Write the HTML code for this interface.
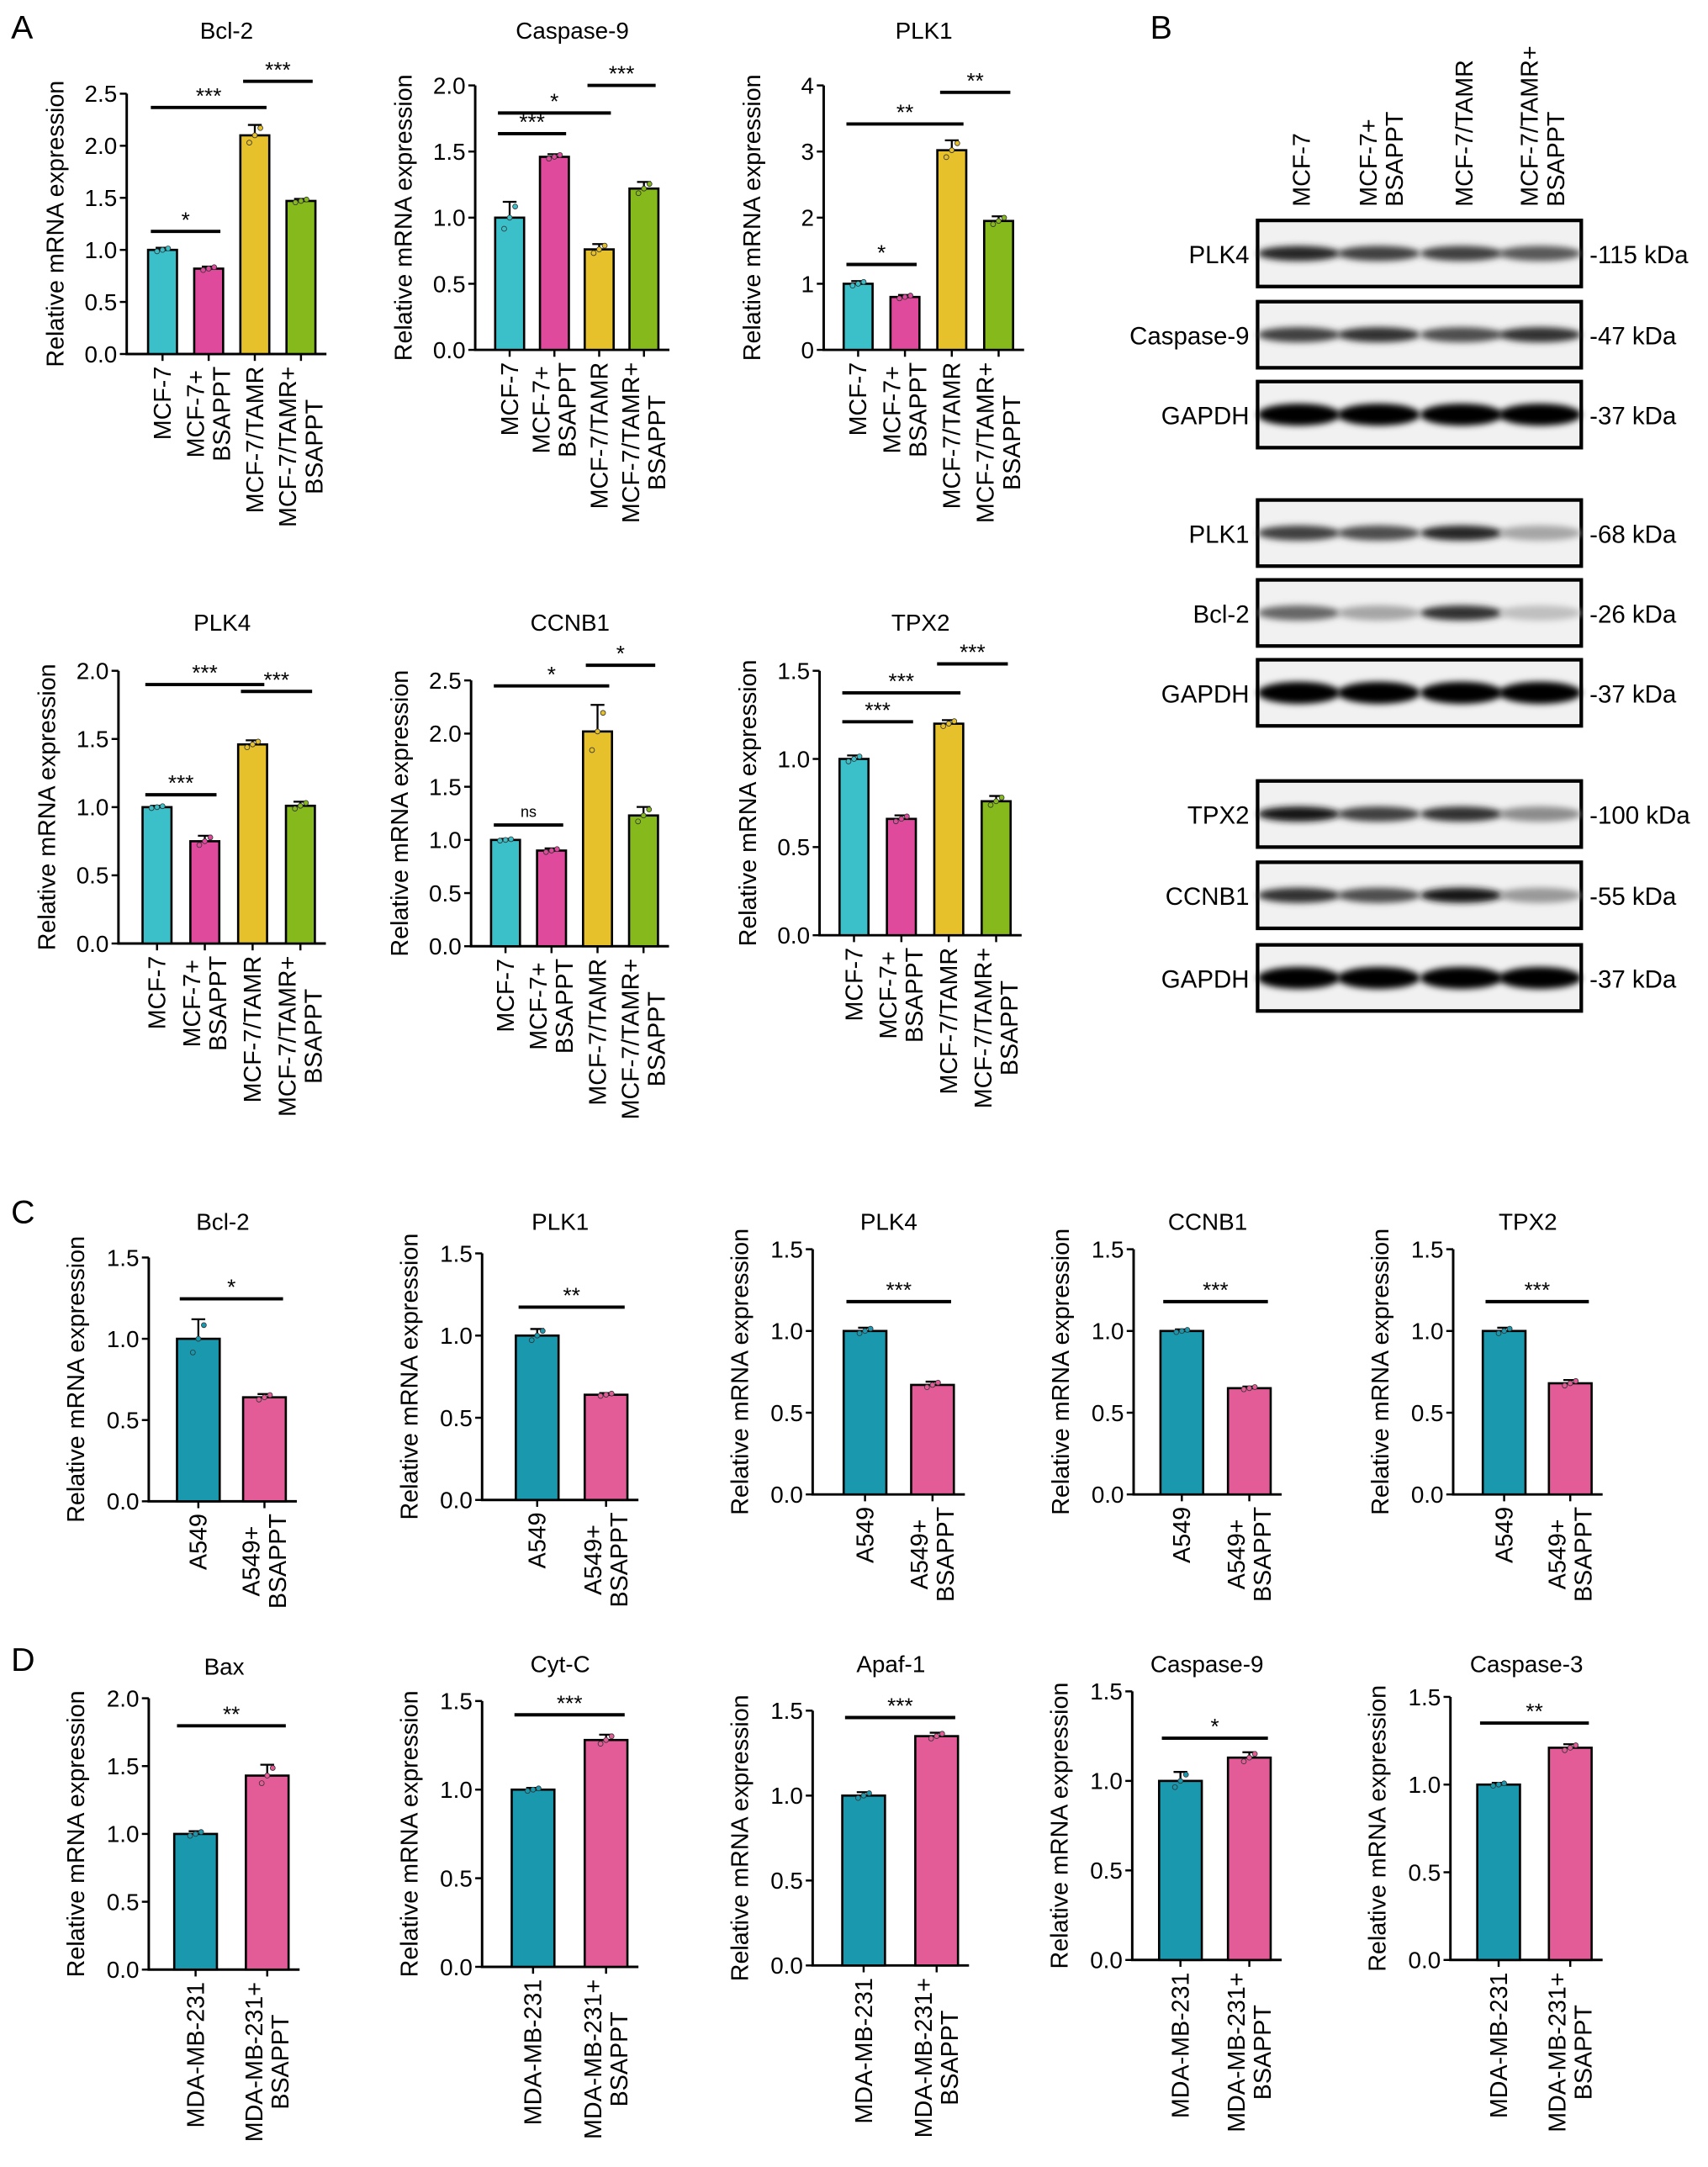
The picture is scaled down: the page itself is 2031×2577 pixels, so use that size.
<!DOCTYPE html>
<html><head><meta charset="utf-8"><style>
html,body{margin:0;padding:0;background:#fff;}
svg{display:block;font-family:"Liberation Sans",Arial,sans-serif;}
</style></head><body>
<svg id="fig" xmlns="http://www.w3.org/2000/svg" width="2031" height="2577" viewBox="0 0 1240 1573.3">
<defs><filter id="blur" x="-20%" y="-100%" width="140%" height="300%"><feGaussianBlur stdDeviation="2.2"/></filter></defs>
<text x="8" y="28" font-size="24">A</text>
<text x="835" y="28" font-size="24">B</text>
<text x="8" y="888" font-size="24">C</text>
<text x="8" y="1213" font-size="24">D</text>
</svg>
<script>
// ---- data arrays ----
const groupsA=[["MCF-7"],["MCF-7+","BSAPPT"],["MCF-7/TAMR"],["MCF-7/TAMR+","BSAPPT"]];
const groupsC=[["A549"],["A549+","BSAPPT"]];
const groupsD=[["MDA-MB-231"],["MDA-MB-231+","BSAPPT"]];
const bcl2A=[1.0,0.82,2.1,1.47];
const casp9A=[1.0,1.46,0.76,1.22];
const plk1A=[1.0,0.8,3.02,1.95];
const plk4A=[1.0,0.75,1.46,1.01];
const ccnb1A=[1.0,0.9,2.02,1.23];
const tpx2A=[1.0,0.66,1.2,0.76];
const bcl2C=[1.0,0.64];
const plk1C=[1.0,0.64];
const plk4C=[1.0,0.67];
const ccnb1C=[1.0,0.65];
const tpx2C=[1.0,0.68];
const baxD=[1.0,1.43];
const cytcD=[1.0,1.28];
const apafD=[1.0,1.35];
const casp9D=[1.0,1.13];
const casp3D=[1.0,1.21];
const errA=[[0.02,0.02,0.1,0.02],[0.12,0.02,0.04,0.05],[0.04,0.03,0.15,0.07],[0.01,0.04,0.03,0.03],[0.01,0.02,0.25,0.08],[0.02,0.02,0.02,0.03]];
const errC=[[0.12,0.02],[0.04,0.01],[0.02,0.02],[0.01,0.01],[0.02,0.02]];
const errD=[[0.02,0.08],[0.01,0.03],[0.02,0.02],[0.05,0.03],[0.01,0.02]];
const ticks25=[0,0.5,1,1.5,2,2.5];
const ticks20=[0,0.5,1,1.5,2];
const ticks4=[0,1,2,3,4];
const ticks15=[0,0.5,1,1.5];
const sigBcl2A=[["*",0,1],["***",0,2],["***",2,3]];
const sigCasp9A=[["***",0,1],["*",0,2],["***",2,3]];
const sigPlk1A=[["*",0,1],["**",0,2],["**",2,3]];
const sigPlk4A=[["***",0,1],["***",0,2],["***",2,3]];
const sigCcnb1A=[["ns",0,1],["*",0,2],["*",2,3]];
const sigTpx2A=[["***",0,1],["***",0,2],["***",2,3]];
const sigC=[["*"],["**"],["***"],["***"],["***"]];
const sigD=[["**"],["***"],["***"],["*"],["**"]];
const wbRows=["PLK4","Caspase-9","GAPDH","PLK1","Bcl-2","GAPDH","TPX2","CCNB1","GAPDH"];
const wbKda=["-115 kDa","-47 kDa","-37 kDa","-68 kDa","-26 kDa","-37 kDa","-100 kDa","-55 kDa","-37 kDa"];
const wbIntensity=[[0.85,0.75,0.75,0.65],[0.75,0.8,0.7,0.8],[1,1,1,1],[0.75,0.7,0.85,0.35],[0.6,0.35,0.8,0.25],[1,1,1,1],[0.9,0.75,0.8,0.45],[0.8,0.7,0.9,0.4],[1,1,1,1]];
const wbLanes=[["MCF-7"],["MCF-7+","BSAPPT"],["MCF-7/TAMR"],["MCF-7/TAMR+","BSAPPT"]];

const svg=document.getElementById('fig');
const NS='http://www.w3.org/2000/svg';
function mk(tag,attrs,parent){const e=document.createElementNS(NS,tag);for(const k in attrs)e.setAttribute(k,attrs[k]);(parent||svg).appendChild(e);return e;}
const colA=["#3bbfc9","#df4a9c","#e6c12c","#86ba1c"];
const colC=["#1998ae","#e45c97"];
const FS=17.5;

function chart(o){
  const g=mk('g',{});
  
  
  const ymax=o.ticks[o.ticks.length-1];
  const y=v=>o.y0-(v/ymax)*(o.y0-o.y1);
  const n=o.values.length;
  const x=i=>o.x0+o.first+i*o.step;
  const t=mk('text',{x:(o.x0+x(n-1)+o.bw/2)/2+4,y:o.ty,'font-size':17,'text-anchor':'middle'},g);
  t.textContent=o.title;
  
  
  const xend=x(n-1)+o.bw/2+8;
  const ax=mk('path',{d:`M${o.x0},${o.y1} L${o.x0},${o.y0} L${xend},${o.y0}`,stroke:'#000','stroke-width':1.8,fill:'none'},g);
  
  
  o.ticks.forEach(tv=>{
    mk('line',{x1:o.x0-5,x2:o.x0,y1:y(tv),y2:y(tv),stroke:'#000','stroke-width':1.5},g);
    const tl=mk('text',{x:o.x0-7,y:y(tv)+6,'font-size':17,'text-anchor':'end'},g);
    tl.textContent=o.dec?tv.toFixed(1):String(tv);
    
    
  });
  const yt=mk('text',{transform:`translate(${o.x0-o.ytoff},${(o.y0+o.y1)/2}) rotate(-90)`,'font-size':FS,'text-anchor':'middle'},g);
  yt.textContent='Relative mRNA expression';
  
  
  o.values.forEach((v,i)=>{
    const cx=x(i);
    const b=mk('rect',{x:cx-o.bw/2,y:y(v),width:o.bw,height:o.y0-y(v),fill:o.colors[i],stroke:'#000','stroke-width':1.6},g);
    
    
    const e=o.err[i];
    mk('path',{d:`M${cx},${y(v+e)} L${cx},${y(v)} M${cx-5},${y(v+e)} L${cx+5},${y(v+e)}`,stroke:'#000','stroke-width':1.4,fill:'none'},g);
    [-4,0,4].forEach((d,k)=>mk('circle',{cx:cx+d,cy:y(v+(k-1)*e*0.7),r:1.8,fill:o.colors[i],stroke:'#333','stroke-width':0.5},g));
    mk('line',{x1:cx,x2:cx,y1:o.y0,y2:o.y0+5,stroke:'#000','stroke-width':1.5},g);
    const lines=o.groups[i];
    const els=lines.map((ln,k)=>{
      const off=(k-(lines.length-1)/2)*19;
      const tl=mk('text',{transform:`translate(${cx+off+6},${o.y0+9}) rotate(-90)`,'font-size':FS,'text-anchor':'end'},g);
      tl.textContent=ln;
      
      
      return [tl,off];
    });
    if(els.length>1){
      const L=Math.max(...els.map(a=>a[0].getComputedTextLength()));
      els.forEach(([tl,off])=>{tl.setAttribute('text-anchor','middle');tl.setAttribute('transform',`translate(${cx+off+6},${o.y0+9+L/2}) rotate(-90)`);});
    }
  });
  o.sigs.forEach((s,k)=>{
    const a=s[1]===undefined?0:s[1], bb=s[2]===undefined?1:s[2];
    const ly=o.sigY[k];
    mk('line',{x1:x(a)-o.bw/2+2,x2:x(bb)+o.bw/2-2,y1:ly,y2:ly,stroke:'#000','stroke-width':2.4},g);
    const st=mk('text',{x:(x(a)+x(bb))/2,y:ly-(s[0]=='ns'?6:3),'font-size':s[0]=='ns'?11:16,'text-anchor':'middle'},g);
    st.textContent=s[0];
    
    
  });
}
function A(name,title,x0,y0,y1,values,ticks,err,sigs,sigY,firsts,ty,dec){
  chart({name,title,x0,y0,y1,values,ticks,err,sigs,sigY,first:firsts[0],step:firsts[1],bw:21,colors:colA,groups:groupsA,ty,dec,ytoff:46});
}
A('bcl2-a','Bcl-2',92,257,68,bcl2A,ticks25,errA[0],sigBcl2A,[168,78,59],[26,33.5],28,true);
A('caspase9-a','Caspase-9',345,254,62,casp9A,ticks20,errA[1],sigCasp9A,[97,82,62],[25,32.5],28,true);
A('plk1-a','PLK1',598,254,62,plk1A,ticks4,errA[2],sigPlk1A,[192,90,67],[25,34],28,false);
A('plk4-a','PLK4',86,685,487,plk4A,ticks20,errA[3],sigPlk4A,[577,497,502],[28,34.7],458,true);
A('ccnb1-a','CCNB1',342,687,494,ccnb1A,ticks25,errA[4],sigCcnb1A,[599,498,483],[25,33.4],458,true);
A('tpx2-a','TPX2',595,679,487,tpx2A,ticks15,errA[5],sigTpx2A,[524,503,482],[25,34.4],458,true);
function C(name,title,x0,y0,y1,values,err,sig,sigY,first,step,ty,groups,ticks){
  chart({name,title,x0,y0,y1,values,ticks,err,sigs:[sig],sigY:[sigY],first,step,bw:31,colors:colC,groups,ty,dec:true,ytoff:47});
}
C('bcl2-c','Bcl-2',108,1090,913,bcl2C,errC[0],sigC[0],943,36,48,893,groupsC,ticks15);
C('plk1-c','PLK1',350,1089,910,plk1C,errC[1],sigC[1],949,40,50,893,groupsC,ticks15);
C('plk4-c','PLK4',590,1085,907,plk4C,errC[2],sigC[2],945,38,49,893,groupsC,ticks15);
C('ccnb1-c','CCNB1',823,1085,907,ccnb1C,errC[3],sigC[3],945,35,49,893,groupsC,ticks15);
C('tpx2-c','TPX2',1055,1085,907,tpx2C,errC[4],sigC[4],945,37,48,893,groupsC,ticks15);
C('bax-d','Bax',108,1430,1233,baxD,errD[0],sigD[0],1253,34,52,1216,groupsD,ticks20);
C('cytc-d','Cyt-C',350,1428,1235,cytcD,errD[1],sigD[1],1245,37,53,1214,groupsD,ticks15);
C('apaf1-d','Apaf-1',590,1427,1242,apafD,errD[2],sigD[2],1247,37,53,1214,groupsD,ticks15);
C('caspase9-d','Caspase-9',822,1423,1228,casp9D,errD[3],sigD[3],1262,35,50,1214,groupsD,ticks15);
C('caspase3-d','Caspase-3',1053,1423,1232,casp3D,errD[4],sigD[4],1251,35,52,1214,groupsD,ticks15);

// ---- western blot ----
const wb=mk('g',{});


const laneX=[945,1003,1063,1120];
const rowTop=[160,219,277,363,421,479,567,626,686];
wbLanes.forEach((lines,i)=>{
  lines.forEach((ln,k)=>{
    const off=(k-(lines.length-1)/2)*19;
    const tl=mk('text',{transform:`translate(${laneX[i]+6+off},150) rotate(-90)`,'font-size':17.5,'text-anchor':'start'},wb);
    tl.textContent=ln;
    
    
  });
});
wbRows.forEach((r,i)=>{
  const top=rowTop[i];
  const box=mk('rect',{x:913,y:top,width:235,height:48,fill:'#f1f1f1',stroke:'#000','stroke-width':2.6},wb);
  
  
  wbIntensity[i].forEach((v,j)=>{
    const g=Math.round(255*(1-v));
    mk('ellipse',{cx:laneX[j]-2,cy:top+24,rx:30,ry:r=='GAPDH'?8:5.5,fill:`rgb(${g},${g},${g})`,filter:'url(#blur)'},wb);
  });
  const lt=mk('text',{x:907,y:top+31,'font-size':18,'text-anchor':'end'},wb);
  lt.textContent=r;
  
  
  const kt=mk('text',{x:1154,y:top+31,'font-size':18},wb);
  kt.textContent=wbKda[i];
  
  
});
</script>
</body></html>
